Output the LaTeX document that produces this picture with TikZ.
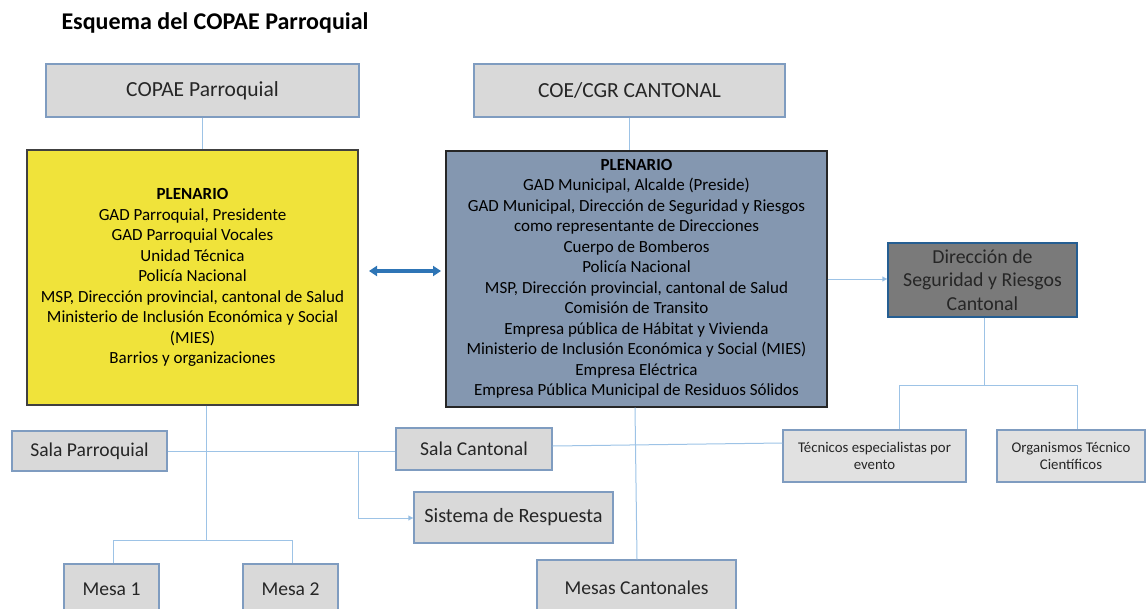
\documentclass[tikz,border=0pt]{standalone}
\usepackage{fontspec}
\setmainfont{Carlito}
\usetikzlibrary{arrows.meta}
\definecolor{boxgray}{HTML}{D9D9D9}
\definecolor{boxedge}{HTML}{7F9CC0}
\definecolor{conn}{HTML}{9DC3E6}
\definecolor{yel}{HTML}{F0E33A}
\definecolor{slate}{HTML}{8497B0}
\definecolor{darkg}{HTML}{7A7A7A}
\definecolor{arrblue}{HTML}{2E75B6}
\definecolor{txt}{HTML}{262626}
\tikzset{
  gbox/.style={draw=boxedge, fill=boxgray, line width=1.4pt, inner sep=0pt, align=center, text=txt},
  lbox/.style={draw=boxedge, fill=boxgray!80, line width=1.2pt, inner sep=0pt, align=center, text=txt},
  bigbox/.style={line width=1.4pt, inner sep=0pt, align=center, text=black},
  link/.style={draw=conn, line width=1pt},
  linkarr/.style={link, -{Triangle[length=5pt,width=5pt,fill=arrblue!60]}}
}
\begin{document}
\begin{tikzpicture}[x=1pt,y=-1pt]
\useasboundingbox (0,0) rectangle (1146,608);
\clip (0,0) rectangle (1146,608);
\node[anchor=west, font=\fontsize{24}{28}\selectfont\bfseries, text=black] (title) at (58,23) {Esquema del COPAE Parroquial};
\node[gbox, minimum width=313, minimum height=53, font=\fontsize{21.5}{24}\selectfont] (copae) at (202.5,90.5) {COPAE Parroquial};
\node[gbox, minimum width=311, minimum height=53, font=\fontsize{21.5}{24}\selectfont] (coe) at (629.5,90.5) {COE/CGR CANTONAL};
\node[bigbox, draw=black!75, fill=yel, minimum width=331, minimum height=255, font=\fontsize{17}{20.5}\selectfont] (yel) at (192.5,277.5) {\textbf{PLENARIO}\\GAD Parroquial, Presidente\\GAD Parroquial Vocales\\Unidad Técnica\\Policía Nacional\\MSP, Dirección provincial, cantonal de Salud\\Ministerio de Inclusión Económica y Social\\(MIES)\\Barrios y organizaciones};
\node[bigbox, draw=black!85, fill=slate, minimum width=381, minimum height=256, font=\fontsize{17}{20.5}\selectfont] (ple) at (636.5,279) {\textbf{PLENARIO}\\GAD Municipal, Alcalde (Preside)\\GAD Municipal, Dirección de Seguridad y Riesgos\\como representante de Direcciones\\Cuerpo de Bomberos\\Policía Nacional\\MSP, Dirección provincial, cantonal de Salud\\Comisión de Transito\\Empresa pública de Hábitat y Vivienda\\Ministerio de Inclusión Económica y Social (MIES)\\Empresa Eléctrica\\Empresa Pública Municipal de Residuos Sólidos};
\node[draw=arrblue!80!black, fill=darkg, line width=1.4pt, inner sep=0pt, align=center, text=txt, minimum width=189, minimum height=74, font=\fontsize{19.8}{23.5}\selectfont] (dir) at (982.5,280) {Dirección de\\Seguridad y Riesgos\\Cantonal};
\node[lbox, minimum width=183, minimum height=52, font=\fontsize{14.8}{17.5}\selectfont] (tec) at (874.5,456) {Técnicos especialistas por\\evento};
\node[lbox, minimum width=148, minimum height=52, font=\fontsize{14.8}{17.5}\selectfont] (org) at (1071,456) {Organismos Técnico\\Científicos};
\node[gbox, minimum width=155, minimum height=40, font=\fontsize{19.6}{22}\selectfont] (salap) at (89.5,451) {Sala Parroquial};
\node[gbox, minimum width=156, minimum height=42, font=\fontsize{19.6}{22}\selectfont] (salac) at (474,449) {Sala Cantonal};
\node[gbox, minimum width=199, minimum height=51, font=\fontsize{20.3}{22}\selectfont] (sis) at (513.5,517.5) {Sistema de Respuesta};
\node[gbox, minimum width=95, minimum height=50, font=\fontsize{19.6}{22}\selectfont] (m1) at (111.5,589) {Mesa 1};
\node[gbox, minimum width=95, minimum height=50, font=\fontsize{19.6}{22}\selectfont] (m2) at (290.5,589) {Mesa 2};
\node[gbox, minimum width=199, minimum height=56, font=\fontsize{19.6}{22}\selectfont] (mc) at (636.5,588) {Mesas Cantonales};
% connectors
\draw[link] (copae.south) -- (copae.south |- yel.north);
\draw[link] (coe.south) -- (coe.south |- ple.north);
\draw[arrblue, line width=3.2pt, {Triangle[length=8pt,width=10pt]}-{Triangle[length=8pt,width=10pt]}] (369,271) -- (441,271);
\draw[linkarr] (ple.east |- 0,279) -- (dir.west |- 0,279);
\coordinate (dsplit) at (984,385);
\draw[link] (dir.south -| dsplit) -- (dsplit);
\draw[link] (tec.north -| 899,0) -- (899,385) -- (1077,385) -- (org.north -| 1077,0);
\coordinate (msplit) at (206,540);
\draw[link] (yel.south -| msplit) -- (msplit);
\draw[link] (m1.north -| 113,0) -- (113,540) -- (292,540) -- (m2.north -| 292,0);
\draw[link] (salap.east) -- (salap.east -| salac.west);
\coordinate (sbr) at (358,451);
\draw[linkarr] (sbr) -- (358,518) -- (sis.west |- 0,518);
\draw[link] (salac.east |- 0,446) -- (tec.west |- 0,443);
\draw[link] (ple.south -| 635,0) -- (mc.north -| 637,0);
\end{tikzpicture}
\end{document}
